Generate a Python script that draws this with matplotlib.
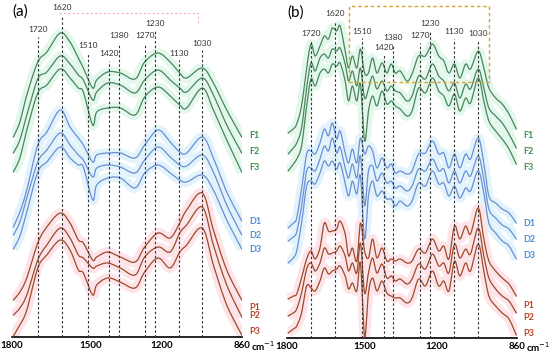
import matplotlib
matplotlib.use('Agg')
import matplotlib.pyplot as plt
import numpy as np
from matplotlib.patches import Rectangle

plt.rcParams['font.family'] = ['Lato', 'DejaVu Sans']

# ---- data (y = absorbance, arbitrary offset units) ----
# panel (a)
wn_a = [1822, 1795, 1766, 1720, 1682, 1626, 1585, 1550, 1529, 1490, 1473, 1427,
        1374, 1312, 1272, 1216, 1165, 1125, 1096, 1030, 984, 928, 865]
F1_a = [200, 215, 242, 275, 285, 304, 295, 279, 269, 249, 257, 265, 264, 258, 275, 284, 275, 264, 259, 269, 254, 227, 200]
F2_a = [184, 197, 222, 258, 265, 281, 273, 262, 257, 237, 245, 254, 252, 244, 257, 267, 257, 249, 245, 259, 242, 212, 184]
F3_a = [165, 179, 207, 244, 252, 268, 259, 249, 245, 212, 225, 229, 229, 222, 240, 250, 241, 232, 229, 249, 227, 197, 165]
D1_a = [110, 125, 147, 192, 205, 227, 210, 199, 192, 175, 182, 184, 184, 179, 192, 207, 195, 185, 184, 200, 179, 145, 116]
D2_a = [102, 115, 139, 175, 187, 204, 192, 182, 177, 160, 169, 172, 170, 164, 177, 190, 180, 172, 171, 182, 165, 132, 102]
D3_a = [88, 101, 125, 165, 175, 190, 179, 172, 170, 137, 152, 159, 159, 149, 164, 172, 164, 157, 155, 162, 147, 117, 88]
P1_a = [37, 45, 59, 94, 110, 124, 114, 97, 94, 77, 80, 85, 80, 75, 90, 104, 99, 114, 127, 144, 107, 67, 37]
P2_a = [22, 29, 42, 77, 92, 109, 99, 82, 79, 69, 71, 74, 69, 62, 80, 90, 85, 104, 112, 130, 92, 52, 20]
P3_a = [1, 12, 27, 69, 82, 97, 87, 67, 64, 42, 52, 59, 55, 49, 65, 79, 69, 85, 92, 109, 72, 32, 2]

# panel (b), second derivative-like spectra
wn_b = [1814, 1793, 1779, 1759, 1738, 1720, 1703, 1683, 1665, 1648, 1632, 1614, 1600,
        1579, 1565, 1549, 1531, 1516, 1499, 1483, 1466, 1448, 1427, 1407, 1389, 1372,
        1352, 1324, 1303, 1276, 1248, 1219, 1193, 1172, 1151, 1128, 1106, 1082, 1062,
        1030, 1007, 986, 958, 931, 903, 873]
F1_b = [205, 209, 214, 232, 270, 294, 282, 292, 302, 299, 310, 307, 312, 287, 270, 282, 270, 289, 265, 265, 280, 265, 275,
        265, 274, 265, 267, 257, 264, 282, 282, 294, 282, 277, 265, 274, 260, 274, 269, 287, 270, 250, 240, 234, 224, 209]
F2_b = [184, 190, 195, 210, 250, 275, 267, 280, 284, 280, 289, 287, 290, 274, 257, 267, 252, 270, 240, 249, 262, 249, 257,
        247, 252, 247, 245, 237, 242, 262, 259, 274, 262, 257, 247, 255, 240, 254, 249, 269, 250, 230, 222, 215, 204, 190]
F3_b = [167, 174, 179, 192, 232, 259, 252, 265, 269, 265, 274, 272, 275, 257, 237, 252, 237, 254, 197, 227, 242, 232, 247,
        234, 237, 232, 229, 222, 227, 250, 245, 260, 247, 242, 232, 244, 227, 240, 235, 260, 237, 217, 207, 199, 189, 174]
D1_b = [110, 115, 120, 149, 184, 187, 184, 195, 209, 202, 215, 199, 207, 185, 175, 189, 175, 200, 184, 192, 187, 170, 180,
        170, 174, 165, 167, 164, 167, 184, 185, 197, 184, 185, 170, 184, 170, 184, 179, 200, 175, 142, 135, 129, 125, 115]
D2_b = [97, 101, 106, 132, 167, 170, 167, 179, 192, 187, 200, 185, 191, 170, 160, 174, 160, 182, 132, 167, 172, 157, 165,
        155, 157, 150, 152, 147, 152, 169, 167, 179, 167, 169, 155, 167, 155, 167, 162, 182, 159, 129, 120, 113, 109, 99]
D3_b = [75, 80, 87, 115, 152, 157, 154, 165, 177, 172, 177, 169, 175, 155, 142, 157, 144, 162, 99, 142, 157, 142, 147,
        139, 139, 132, 137, 132, 137, 155, 152, 167, 154, 155, 142, 152, 140, 150, 147, 167, 145, 115, 105, 97, 92, 79]
P1_b = [39, 42, 44, 60, 79, 87, 79, 90, 115, 107, 107, 109, 117, 104, 82, 90, 77, 115, 87, 80, 99, 80, 90,
        77, 79, 77, 79, 75, 77, 89, 85, 99, 87, 92, 79, 112, 99, 112, 104, 130, 99, 77, 67, 60, 54, 42]
P2_b = [22, 25, 29, 45, 69, 75, 67, 75, 90, 84, 85, 87, 92, 82, 67, 75, 65, 95, 45, 65, 80, 65, 74,
        60, 62, 57, 59, 54, 59, 74, 69, 84, 72, 75, 65, 94, 80, 89, 84, 110, 82, 60, 49, 42, 37, 25]
P3_b = [5, 9, 12, 25, 52, 50, 47, 57, 70, 64, 67, 69, 72, 62, 49, 55, 47, 75, 1, 45, 60, 47, 57,
        45, 42, 40, 40, 35, 40, 59, 52, 67, 52, 57, 47, 77, 62, 75, 67, 94, 67, 42, 32, 25, 19, 3]

names = ['F1', 'F2', 'F3', 'D1', 'D2', 'D3', 'P1', 'P2', 'P3']
peaks = [1720, 1620, 1510, 1420, 1380, 1270, 1230, 1130, 1030]
peak_labels = [str(p) for p in peaks]

# label heights (same units as the spectra)
peak_lab_y_a = [307, 329, 291, 283, 301, 301, 314, 284, 294]
peak_lab_y_b = [304, 324, 307, 291, 301, 302, 315, 306, 304]
name_y_a = [202, 185, 169, 116, 102, 87, 30, 21, 6]
name_y_b = [203, 187, 171, 114, 99, 83, 33, 20, 5]

line_col = {'F': '#47875a', 'D': '#6a8fd6', 'P': '#9e4a2b'}
glow_col = {'F': '#e3f7ed', 'D': '#e2f3fb', 'P': '#fde4e9'}
text_col = {'F': '#3d8f4a', 'D': '#4c8dd8', 'P': '#b8452a'}


def smooth(x, y, n=8):
    # Catmull-Rom through the read points, just for drawing
    x = np.asarray(x, float)
    y = np.asarray(y, float)
    px = np.concatenate([[2 * x[0] - x[1]], x, [2 * x[-1] - x[-2]]])
    py = np.concatenate([[2 * y[0] - y[1]], y, [2 * y[-1] - y[-2]]])
    t = np.linspace(0, 1, n, endpoint=False)
    xs, ys = [], []
    for i in range(1, len(px) - 2):
        for arr, out in ((px, xs), (py, ys)):
            p0, p1, p2, p3 = arr[i - 1], arr[i], arr[i + 1], arr[i + 2]
            out.extend(0.5 * (2 * p1 + (-p0 + p2) * t + (2 * p0 - 5 * p1 + 4 * p2 - p3) * t ** 2
                              + (-p0 + 3 * p1 - 3 * p2 + p3) * t ** 3))
    xs.append(x[-1])
    ys.append(y[-1])
    return np.array(xs), np.array(ys)


def panel(ax, wn, curves, lab_y, name_y, xlim, name_x, tag):
    ax.set_xlim(*xlim)
    ax.set_ylim(0, 337)
    for nm, c in zip(names, curves):
        xs, ys = smooth(wn, c)
        ax.plot(xs, ys, color=glow_col[nm[0]], lw=7, zorder=1, solid_capstyle='butt')
    for nm, c in zip(names, curves):
        xs, ys = smooth(wn, c)
        ax.plot(xs, ys, color=line_col[nm[0]], lw=0.9, zorder=3)
    for p, lab, ly in zip(peaks, peak_labels, lab_y):
        ax.plot([p, p], [0, ly - 7], color='#333333', lw=0.8, ls=(0, (2.2, 2.0)), zorder=4)
        ax.text(p, ly, lab, ha='center', va='center', fontsize=6, color='#333333')
    for nm, ny in zip(names, name_y):
        ax.text(name_x, ny, nm, ha='left', va='center', fontsize=6.5, fontweight='bold',
                color=text_col[nm[0]], clip_on=False)
    for s in ['top', 'right', 'left']:
        ax.spines[s].set_visible(False)
    ax.spines['bottom'].set_linewidth(1.2)
    ax.set_yticks([])
    ax.set_xticks([xlim[0], 1500, 1200, xlim[1]])
    ax.set_xticklabels(['1800', '1500', '1200', '860'], fontsize=7, fontweight='bold')
    ax.tick_params(axis='x', length=0, pad=3)
    ax.text(1.04, -0.027, 'cm$^{-1}$', transform=ax.transAxes, ha='left', va='center',
            fontsize=7, fontweight='bold', clip_on=False)
    ax.text(0.0, 0.965, tag, transform=ax.transAxes, ha='left', va='center', fontsize=11)
    ax.patch.set_alpha(0)


fig = plt.figure(figsize=(5.5, 3.59), dpi=100)
ax1 = fig.add_axes([12 / 550, 22 / 359, 230 / 550, 337 / 359])
ax2 = fig.add_axes([287 / 550, 21 / 359, 230 / 550, 337 / 359])

panel(ax1, wn_a, [F1_a, F2_a, F3_a, D1_a, D2_a, D3_a, P1_a, P2_a, P3_a],
      peak_lab_y_a, name_y_a, (1828, 864), 835, '(a)')
panel(ax2, wn_b, [F1_b, F2_b, F3_b, D1_b, D2_b, D3_b, P1_b, P2_b, P3_b],
      peak_lab_y_b, name_y_b, (1819, 870), 845, '(b)')

# faint pink guide in (a), highlighted region box in (b)
ax1.plot([1630, 1050, 1050], [324, 324, 312], color='#f2a6dc', lw=0.8, ls=(0, (2, 2)))
ax2.add_patch(Rectangle((1563, 256), 987 - 1563, 76, fill=False, ec='#d9a531', lw=1.0,
                        ls=(0, (2.5, 2)), zorder=5))

fig.savefig('out.png', dpi=100)
